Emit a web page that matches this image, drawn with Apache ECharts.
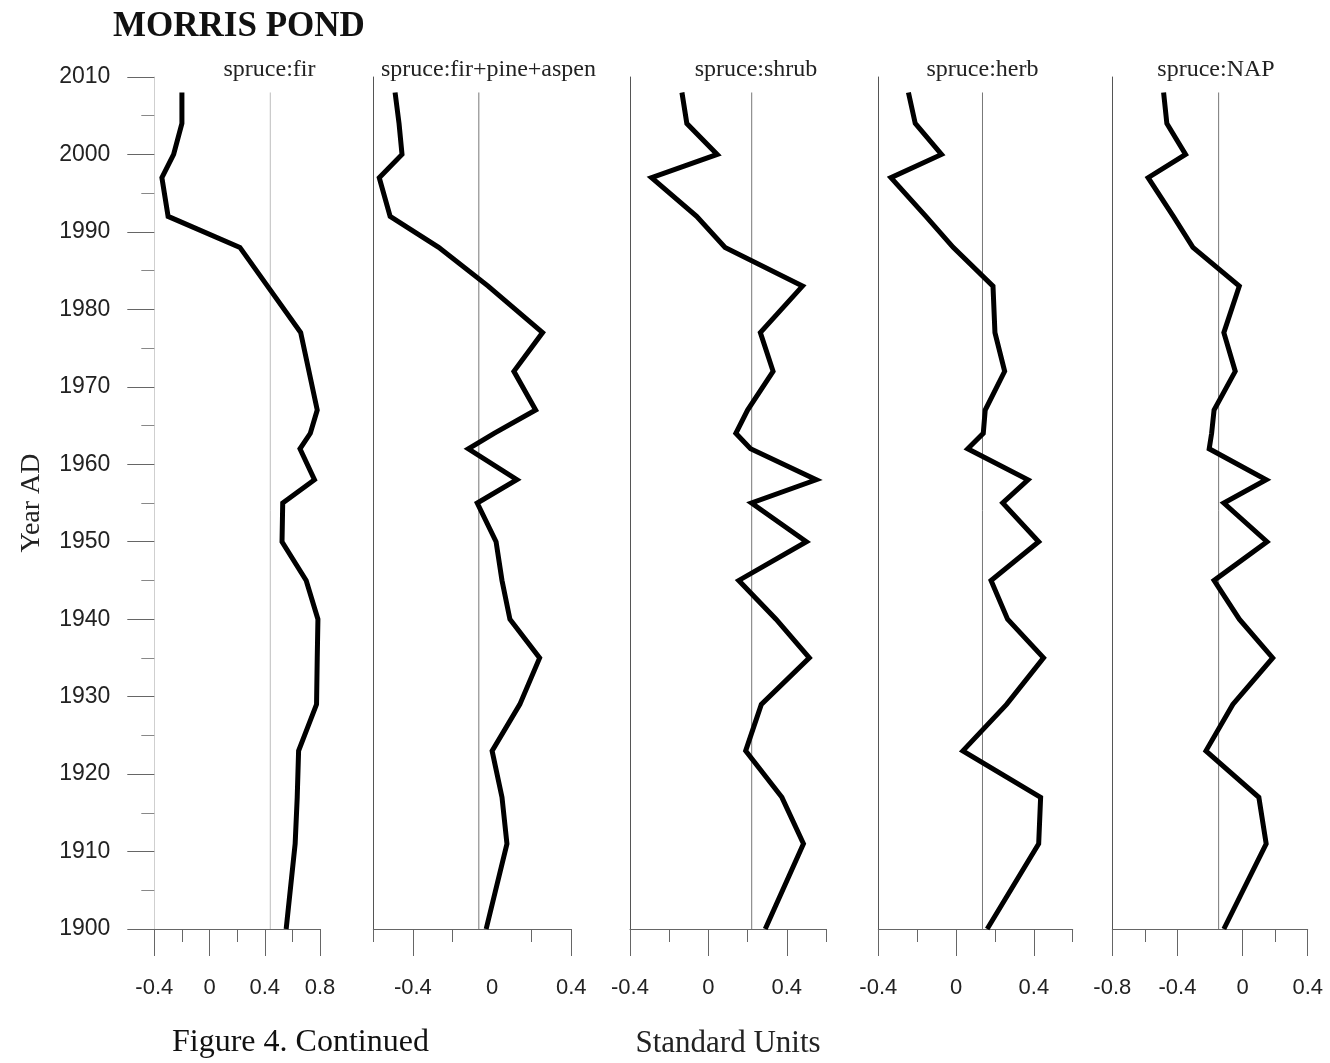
<!DOCTYPE html>
<html>
<head>
<meta charset="utf-8">
<title>Morris Pond</title>
<script src="https://cdn.jsdelivr.net/npm/echarts@6/dist/echarts.min.js"></script>
<style>
  html, body { margin: 0; padding: 0; background: #fff; }
  #chart { width: 1330px; height: 1063px; }
</style>
</head>
<body>
<div id="chart"></div>
<script>
// Sample ages (year AD), top of core first
const years = [2008, 2004, 2000, 1997, 1992, 1988, 1983, 1977, 1972, 1967, 1964, 1962,
               1958, 1955, 1950, 1945, 1940, 1935, 1929, 1923, 1917, 1911, 1900];

// Pollen ratios in standard units
const spruceFir = [-0.20, -0.20, -0.26, -0.345, -0.30, 0.22, 0.42, 0.66, 0.72, 0.78, 0.73, 0.655,
                   0.76, 0.53, 0.525, 0.70, 0.785, 0.78, 0.775, 0.645, 0.635, 0.62, 0.555];
const spruceFirPineAspen = [-0.49, -0.47, -0.455, -0.57, -0.515, -0.27, -0.02, 0.255, 0.11, 0.22, 0.01, -0.12,
                            0.125, -0.075, 0.02, 0.05, 0.09, 0.24, 0.14, 0.0, 0.05, 0.075, -0.03];
const spruceShrub = [-0.135, -0.11, 0.045, -0.29, -0.06, 0.085, 0.48, 0.265, 0.33, 0.20, 0.14, 0.215,
                     0.55, 0.22, 0.50, 0.155, 0.345, 0.515, 0.27, 0.19, 0.375, 0.485, 0.29];
const spruceHerb = [-0.245, -0.21, -0.075, -0.335, -0.155, -0.015, 0.19, 0.20, 0.25, 0.15, 0.14, 0.06,
                    0.37, 0.24, 0.425, 0.18, 0.265, 0.45, 0.26, 0.035, 0.435, 0.425, 0.16];
const spruceNAP = [-0.485, -0.465, -0.35, -0.58, -0.425, -0.305, -0.02, -0.115, -0.045, -0.175, -0.19, -0.205,
                   0.145, -0.115, 0.15, -0.175, -0.02, 0.185, -0.06, -0.225, 0.10, 0.145, -0.115];

// Reference (mean) line of each ratio
const refValues = [0.44, -0.067, 0.221, 0.136, -0.147];

const panelTitles = ['spruce:fir', 'spruce:fir+pine+aspen', 'spruce:shrub', 'spruce:herb', 'spruce:NAP'];

// Axis ranges and ticks
const xMin = [-0.4, -0.6, -0.4, -0.4, -0.8];
const xMax = [0.8, 0.4, 0.6, 0.6, 0.4];
const majorTicks = [[-0.4, 0, 0.4, 0.8], [-0.4, 0.4], [-0.4, 0, 0.4], [-0.4, 0, 0.4], [-0.8, -0.4, 0, 0.4]];
const minorTicks = [[-0.2, 0.2, 0.6], [-0.6, -0.2, 0.2], [-0.2, 0.2, 0.6], [-0.2, 0.2, 0.6], [-0.6, 0.2]];
const tickLabels = [[-0.4, 0, 0.4, 0.8], [-0.4, 0, 0.4], [-0.4, 0, 0.4], [-0.4, 0, 0.4], [-0.8, -0.4, 0, 0.4]];
const yearMin = 1900, yearMax = 2010, yearStep = 10;

const ratios = [spruceFir, spruceFirPineAspen, spruceShrub, spruceHerb, spruceNAP];

// Layout of the five strips
const gridLeft = [154.3, 373.3, 630, 878.3, 1112.3];
const gridWidth = [165.7, 198, 196, 194.4, 195.4];
const gridTop = 77, gridHeight = 852;
const titleCenter = [269.5, 488.5, 756, 982.5, 1216];

const SERIF = 'Liberation Serif';
const SANS = 'Liberation Sans';

const grids = [], xAxes = [], yAxes = [], series = [];
const titles = [{
  text: 'MORRIS POND', left: 113, top: 9, padding: 0,
  textStyle: { fontFamily: SERIF, fontWeight: 'bold', fontSize: 35, color: '#111' }
}];

ratios.forEach((vals, i) => {
  grids.push({ left: gridLeft[i], top: gridTop, width: gridWidth[i], height: gridHeight,
               outerBoundsMode: 'none', containLabel: false });

  // axis line with short ticks
  xAxes.push({
    gridIndex: i, type: 'value', min: xMin[i], max: xMax[i], position: 'bottom',
    axisLine: { show: true, onZero: false, lineStyle: { color: '#666', width: 1 } },
    axisTick: { show: true, customValues: minorTicks[i], length: 13, lineStyle: { color: '#666', width: 1 } },
    axisLabel: { show: false },
    splitLine: { show: false },
    name: i === 2 ? 'Standard Units' : '',
    nameLocation: 'middle', nameGap: 99,
    nameTextStyle: { fontFamily: SERIF, fontSize: 31, color: '#222' }
  });
  // long ticks with labels
  xAxes.push({
    gridIndex: i, type: 'value', min: xMin[i], max: xMax[i], position: 'bottom',
    axisLine: { show: false, onZero: false },
    axisTick: { show: true, customValues: majorTicks[i], length: 27, lineStyle: { color: '#666', width: 1 } },
    axisLabel: { show: true, customValues: tickLabels[i], margin: 48, fontSize: 22,
                 fontFamily: SANS, color: '#222', showMinLabel: true, showMaxLabel: true },
    splitLine: { show: false }
  });

  if (i === 0) {
    yAxes.push({
      gridIndex: i, type: 'value', min: yearMin, max: yearMax, interval: yearStep,
      axisLine: { show: true, onZero: false, lineStyle: { color: '#cfcfcf', width: 1 } },
      axisTick: { show: true, length: 27, lineStyle: { color: '#666', width: 1 } },
      minorTick: { show: true, splitNumber: 2, length: 13, lineStyle: { color: '#888', width: 1 } },
      axisLabel: { show: true, margin: 44, fontSize: 23, fontFamily: SANS, color: '#222',
                   formatter: v => String(v) },
      splitLine: { show: false },
      name: 'Year AD', nameLocation: 'middle', nameGap: 109, nameRotate: 90,
      nameTextStyle: { fontFamily: SERIF, fontSize: 28, color: '#222' }
    });
  } else {
    yAxes.push({
      gridIndex: i, type: 'value', min: yearMin, max: yearMax, interval: yearStep,
      axisLine: { show: true, onZero: false, lineStyle: { color: '#555', width: 1 } },
      axisTick: { show: false }, axisLabel: { show: false }, splitLine: { show: false }
    });
  }

  // reference line over the sampled interval
  series.push({
    type: 'line', xAxisIndex: 2 * i, yAxisIndex: i, silent: true, z: 1,
    showSymbol: false, symbol: 'none',
    data: [[refValues[i], years[0]], [refValues[i], years[years.length - 1]]],
    lineStyle: { color: i === 0 ? '#bdbdbd' : '#777', width: 1 }
  });
  // ratio curve
  series.push({
    type: 'line', name: panelTitles[i], xAxisIndex: 2 * i, yAxisIndex: i, z: 3,
    showSymbol: false, symbol: 'none', animation: false,
    data: years.map((yr, k) => [vals[k], yr]),
    lineStyle: { color: '#000', width: 5, join: 'miter', miterLimit: 4 }
  });

  titles.push({
    text: panelTitles[i], left: titleCenter[i], top: 58, textAlign: 'center', padding: 0,
    textStyle: { fontFamily: SERIF, fontWeight: 'normal', fontSize: 24, color: '#222' }
  });
});

const chart = echarts.init(document.getElementById('chart'), null, { renderer: 'canvas' });
chart.setOption({
  animation: false,
  backgroundColor: '#fff',
  title: titles,
  grid: grids,
  xAxis: xAxes,
  yAxis: yAxes,
  series: series,
  graphic: [{
    type: 'text', left: 172, top: 1027,
    style: { text: 'Figure 4. Continued', fontFamily: SERIF, fontSize: 32, fill: '#111' }
  }]
});
</script>
</body>
</html>
